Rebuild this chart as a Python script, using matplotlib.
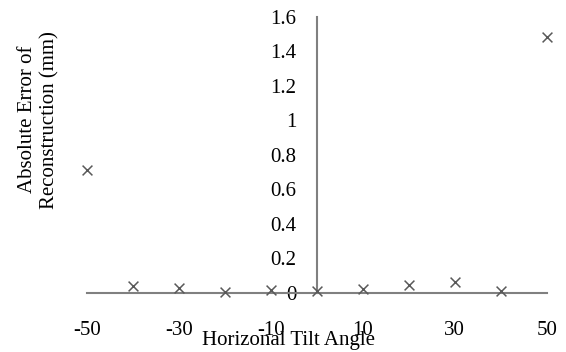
import matplotlib.pyplot as plt
import numpy as np

# tilt angle (deg) and absolute error (mm)
angles = [-50, -40, -30, -20, -10, 0, 10, 20, 30, 40, 50]
errors = [0.71, 0.037, 0.031, 0.003, 0.017, 0.008, 0.021, 0.046, 0.062, 0.008, 1.486]
xticks = [-50, -30, -10, 10, 30, 50]
yticks = [0, 0.2, 0.4, 0.6, 0.8, 1, 1.2, 1.4, 1.6]
ytick_labels = ["0", "0.2", "0.4", "0.6", "0.8", "1", "1.2", "1.4", "1.6"]

plt.rcParams["font.family"] = ["Liberation Serif", "DejaVu Serif"]

fig = plt.figure(figsize=(5.66, 3.52), dpi=100)
ax = fig.add_axes([0.154, 0.168, 0.812, 0.784])

ax.scatter(angles, errors, marker="x", s=50, color="#595959", linewidths=1.1,
           zorder=3, clip_on=False)

ax.set_xlim(-50, 50)
ax.set_ylim(0, 1.6)

# axes cross at the origin
ax.spines["left"].set_position(("data", 0))
ax.spines["right"].set_visible(False)
ax.spines["top"].set_visible(False)
for s in ["left", "bottom"]:
    ax.spines[s].set_color("#808080")
    ax.spines[s].set_linewidth(1.5)

ax.set_xticks(xticks)
ax.set_xticklabels([str(t) for t in xticks])
ax.set_yticks(yticks)
ax.set_yticklabels(ytick_labels)
ax.tick_params(axis="both", length=0, labelsize=15)
ax.tick_params(axis="x", pad=20)
ax.tick_params(axis="y", pad=15)

fig.text(0.509, 0.032, "Horizonal Tilt Angle", ha="center", va="center", fontsize=15)
fig.text(0.068, 0.66, "Absolute Error of\nReconstruction (mm)", ha="center",
         va="center", rotation=90, fontsize=15, linespacing=1.2)

fig.savefig("out.png", dpi=100)
